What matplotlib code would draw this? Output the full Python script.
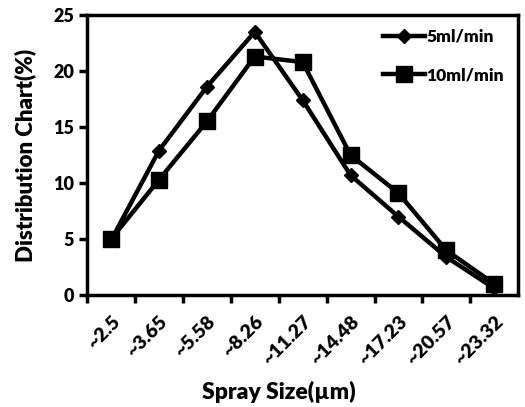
import matplotlib.pyplot as plt
import numpy as np

plt.rcParams['font.family'] = ['Lato', 'DejaVu Sans']
plt.rcParams['font.weight'] = 'heavy'

# spray size categories and distribution values (%)
sizes = ['~2.5', '~3.65', '~5.58', '~8.26', '~11.27', '~14.48', '~17.23', '~20.57', '~23.32']
flow_5 = [4.9, 12.9, 18.6, 23.5, 17.4, 10.7, 7.0, 3.4, 0.6]
flow_10 = [5.0, 10.3, 15.5, 21.3, 20.8, 12.5, 9.1, 4.0, 1.0]

fig = plt.figure(figsize=(5.25, 4.07), dpi=100)
ax = fig.add_axes([0.166, 0.275, 0.821, 0.688])

x = np.arange(len(sizes))
ax.plot(x, flow_5, color='black', lw=3.2, marker='D', ms=7, label='5ml/min')
ax.plot(x, flow_10, color='black', lw=3.2, marker='s', ms=12, label='10ml/min')

ax.set_xlim(-0.5, len(sizes) - 0.5)
ax.set_ylim(0, 25)
ax.set_yticks([0, 5, 10, 15, 20, 25])

# tick marks sit between categories, labels at the centres
ax.set_xticks(x - 0.5)
ax.set_xticklabels([])
ax.set_xticks(x, minor=True)
ax.set_xticklabels(sizes, minor=True, rotation=45, ha='right', rotation_mode='anchor',
                   fontsize=14, fontweight='heavy')
ax.tick_params(axis='x', which='minor', length=0, pad=13)
ax.tick_params(axis='x', which='major', length=6, width=2.5, direction='out')
ax.tick_params(axis='y', length=6, width=2.5, labelsize=13)

for s in ax.spines.values():
    s.set_linewidth(2.5)

ax.set_ylabel('Distribution Chart(%)', fontsize=16, fontweight='heavy', labelpad=12)
ax.set_xlabel('Spray Size(\u00b5m)', fontsize=16.5, fontweight='heavy')
ax.xaxis.set_label_coords(0.445, -0.305)

ax.legend(loc='upper right', frameon=False, handlelength=2.4,
          handletextpad=0.1, labelspacing=1.3, borderaxespad=0.4,
          prop={'weight': 'heavy', 'size': 12.5})

fig.savefig('out.png', dpi=100)
